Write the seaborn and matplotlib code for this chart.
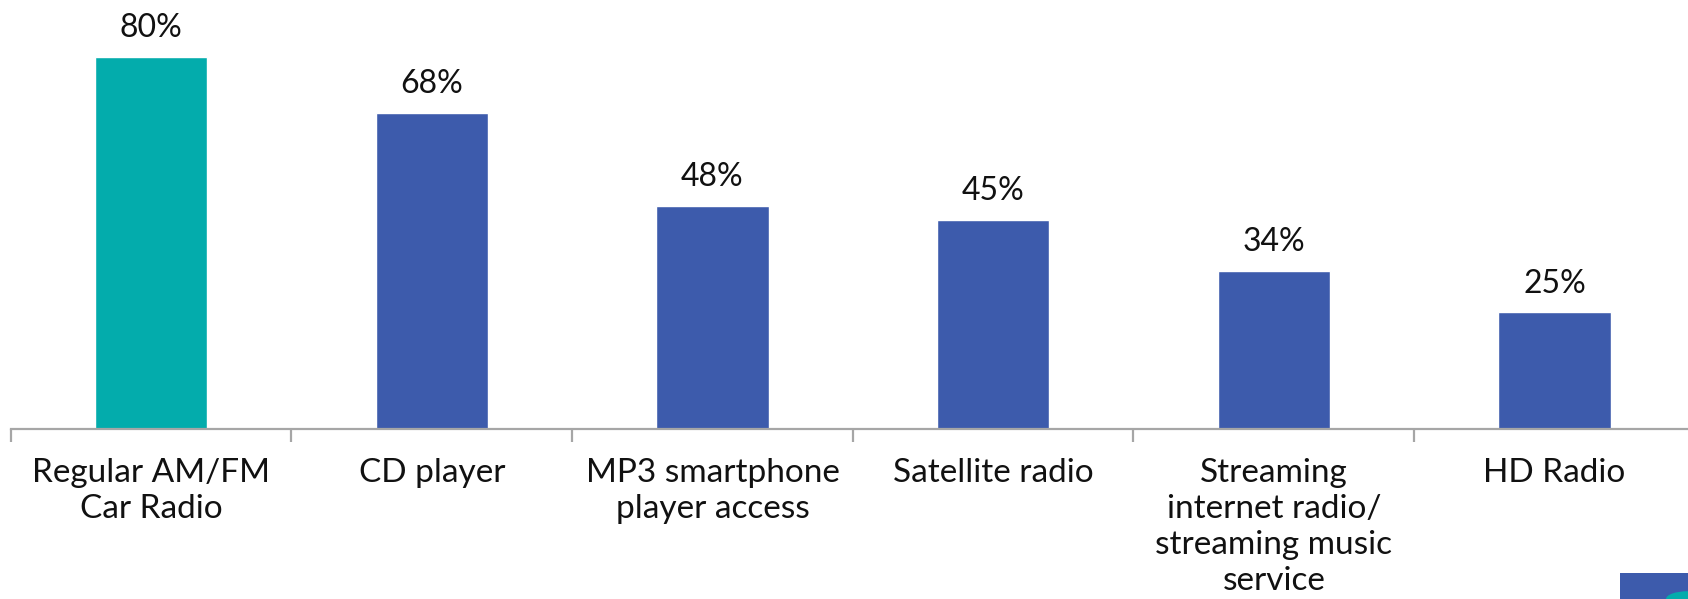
import matplotlib
matplotlib.use("Agg")
import matplotlib.pyplot as plt
import matplotlib.patches as mpatches
import seaborn as sns
import pandas as pd

categories = [
    "Regular AM/FM\nCar Radio",
    "CD player",
    "MP3 smartphone\nplayer access",
    "Satellite radio",
    "Streaming\ninternet radio/\nstreaming music\nservice",
    "HD Radio",
]
values = [80, 68, 48, 45, 34, 25]
colors = ["#03ACAC", "#3D5BAC", "#3D5BAC", "#3D5BAC", "#3D5BAC", "#3D5BAC"]

sns.set_theme(style="white")
plt.rcParams["font.family"] = ["Lato", "DejaVu Sans"]

W, H = 1688, 599
fig = plt.figure(figsize=(W / 100, H / 100), dpi=100)
base = 428.5
ax = fig.add_axes([10.8 / W, (H - base) / H, 1684 / W, base / H])

df = pd.DataFrame({"cat": categories, "val": values})
sns.barplot(data=df, x="cat", y="val", hue="cat", palette=colors,
            width=0.4, legend=False, ax=ax, saturation=1)

ax.set_xlim(-0.5, 5.5)
ax.set_ylim(0, base / 4.644)
for c in ax.containers:
    ax.bar_label(c, labels=[f"{v:.0f}%" for v in c.datavalues],
                 padding=10, fontsize=23, color="#111111")

ax.set_xlabel("")
ax.set_ylabel("")
ax.set_yticks([])
for s in ["left", "top", "right"]:
    ax.spines[s].set_visible(False)
ax.spines["bottom"].set_color("#A6A6A6")
ax.spines["bottom"].set_linewidth(1.6)

ax.set_xticks(range(len(categories)))
ax.set_xticklabels(categories, fontsize=24, color="#111111", linespacing=1.26,
                   ha="center", va="top")
ax.set_xticks([i - 0.5 for i in range(len(categories) + 1)], minor=True)
ax.tick_params(axis="x", which="major", length=0, pad=21)
ax.tick_params(axis="x", which="minor", length=9.5, width=1.6, color="#A6A6A6",
               bottom=True, direction="out")

# small logo fragment in the bottom-right corner
fig.patches.append(mpatches.Rectangle((1620 / W, 0), 68 / W, 26 / H,
                                      transform=fig.transFigure,
                                      facecolor="#3D5BAC", edgecolor="none"))
fig.patches.append(mpatches.Wedge((1688 / W, 0), 22 / W, 90, 180,
                                  transform=fig.transFigure,
                                  facecolor="#03ACAC", edgecolor="none"))

fig.savefig("out.png", dpi=100)
